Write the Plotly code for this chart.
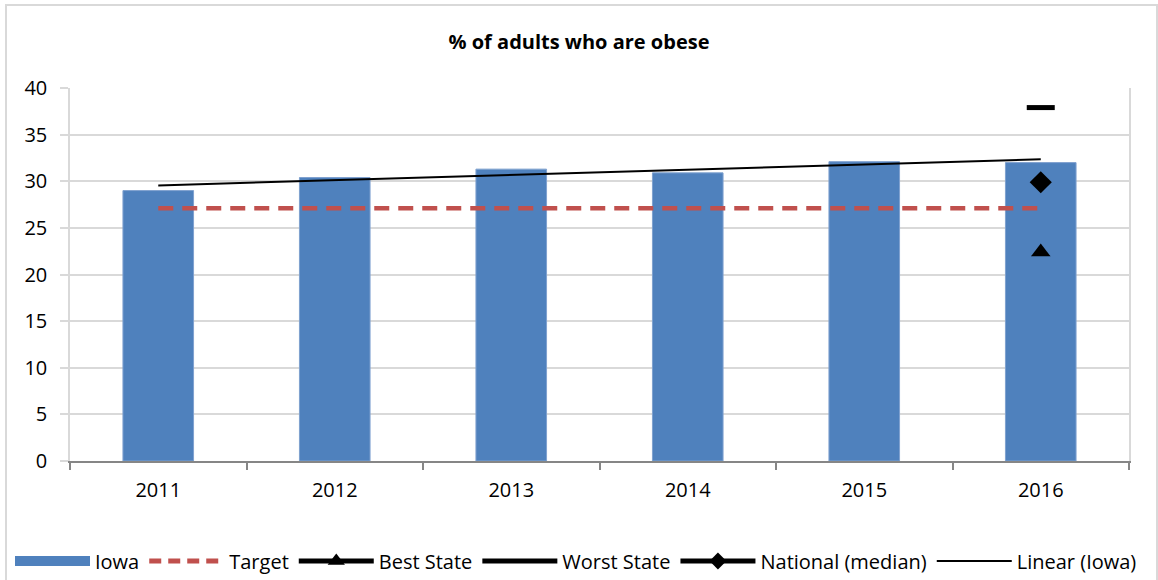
import plotly.graph_objects as go

years = ["2011", "2012", "2013", "2014", "2015", "2016"]
iowa = [29.0, 30.4, 31.3, 30.9, 32.1, 32.0]
target = [27.1, 27.1, 27.1, 27.1, 27.1, 27.1]
best_state_year = ["2016"]
best_state = [22.4]
worst_state_year = ["2016"]
worst_state = [37.9]
national_year = ["2016"]
national = [29.9]
trend_years = ["2011", "2016"]
trend_iowa = [29.55, 32.35]

FONT = "Open Sans, Lato, DejaVu Sans, sans-serif"
BLUE = "#4F81BD"
RED = "#C0504D"
GRID = "#D9D9D9"

fig = go.Figure()

fig.add_trace(go.Bar(x=years, y=iowa, name="Iowa", showlegend=False,
                     marker=dict(color=BLUE, line=dict(color="#7FA1CF", width=1))))
fig.add_trace(go.Scatter(x=years, y=target, name="Target", mode="lines", showlegend=False,
                         line=dict(color=RED, width=4.5, dash="15px,9px")))
fig.add_trace(go.Scatter(x=best_state_year, y=best_state, mode="markers", showlegend=False,
                         marker=dict(symbol="triangle-up", size=17, color="black")))
fig.add_trace(go.Scatter(x=worst_state_year, y=worst_state, mode="markers", showlegend=False,
                         marker=dict(symbol="line-ew", size=20, line=dict(color="black", width=5))))
fig.add_trace(go.Scatter(x=national_year, y=national, mode="markers", showlegend=False,
                         marker=dict(symbol="diamond", size=17, color="black")))
fig.add_trace(go.Scatter(x=trend_years, y=trend_iowa, mode="lines", showlegend=False,
                         line=dict(color="black", width=2)))

# legend entries (Excel-style swatches)
fig.add_trace(go.Scatter(x=[None], y=[None], name="Iowa", mode="lines",
                         line=dict(color=BLUE, width=13)))
fig.add_trace(go.Scatter(x=[None], y=[None], name="Target", mode="lines",
                         line=dict(color=RED, width=5, dash="12px,7px")))
fig.add_trace(go.Scatter(x=[None], y=[None], name="Best State", mode="lines+markers",
                         line=dict(color="black", width=5),
                         marker=dict(symbol="triangle-up", size=15, color="black")))
fig.add_trace(go.Scatter(x=[None], y=[None], name="Worst State", mode="lines",
                         line=dict(color="black", width=5)))
fig.add_trace(go.Scatter(x=[None], y=[None], name="National (median)", mode="lines+markers",
                         line=dict(color="black", width=5),
                         marker=dict(symbol="diamond", size=13, color="black")))
fig.add_trace(go.Scatter(x=[None], y=[None], name="Linear (Iowa)", mode="lines",
                         line=dict(color="black", width=2)))

W, H = 1158, 580
L, R, T, B = 70, 1129, 88, 461
pw, ph = R - L, B - T

fig.update_layout(
    width=W, height=H,
    margin=dict(l=L, r=W - R, t=T, b=H - B, pad=0, autoexpand=False),
    paper_bgcolor="white", plot_bgcolor="white",
    font=dict(family=FONT, size=20, color="black"),
    title=dict(text="<b>% of adults who are obese</b>", x=0.5, xref="container", xanchor="center",
               y=1 - 42 / H, yref="container", yanchor="middle",
               font=dict(family=FONT, size=20, color="black")),
    bargap=0.6,
    showlegend=True,
    legend=dict(orientation="h", x=(10 - L) / pw, xanchor="left", y=(B - 561) / ph, yanchor="middle",
                font=dict(family=FONT, size=20, color="black"), itemwidth=75,
                bgcolor="rgba(0,0,0,0)", tracegroupgap=0, traceorder="normal"),
    xaxis=dict(type="category", showgrid=False, showline=True, linecolor="#868686", linewidth=2,
               ticks="outside", tickson="boundaries", ticklen=7, tickcolor="#868686", tickwidth=2,
               ticklabelstandoff=10,
               tickfont=dict(family=FONT, size=20, color="black"), zeroline=False),
    yaxis=dict(range=[0, 40], dtick=5, showgrid=True, gridcolor=GRID, gridwidth=1.5,
               showline=True, linecolor=GRID, linewidth=1.5, mirror=True,
               ticks="outside", ticklen=8, tickcolor=GRID, tickwidth=1.5,
               ticklabelstandoff=9,
               tickfont=dict(family=FONT, size=20, color="black"), zeroline=False),
    shapes=[dict(type="rect", xref="paper", yref="paper",
                 x0=(6 - L) / pw, x1=(1157 - L) / pw, y0=(B - 600) / ph, y1=(B - 5) / ph,
                 line=dict(color=GRID, width=2), fillcolor="rgba(0,0,0,0)", layer="below")],
)

fig.write_html("out.html", config={"displayModeBar": False},
               post_script="document.body.style.margin='0';")
